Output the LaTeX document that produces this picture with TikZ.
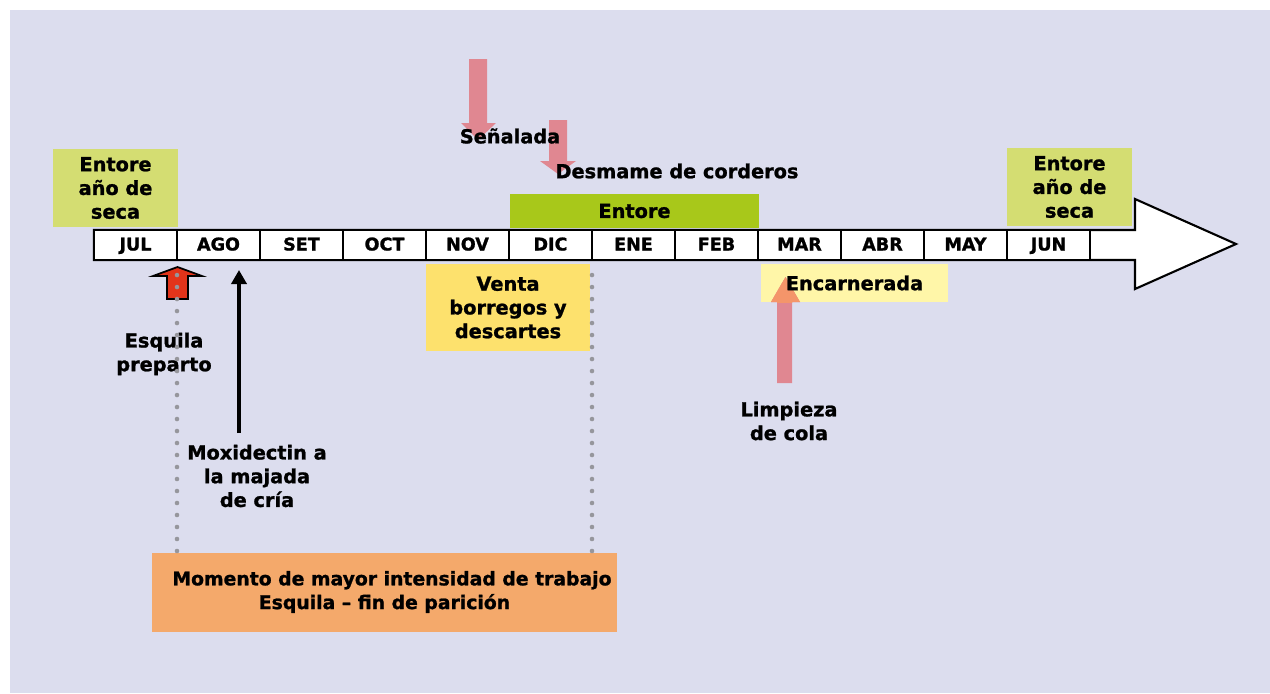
\documentclass[tikz,border=0pt]{standalone}
\usepackage{fontspec}
\setmainfont{DejaVu Sans}[BoldFeatures={FakeBold=1.2}]
\usetikzlibrary{arrows.meta,positioning}

\definecolor{fondo}{RGB}{220,221,238}
\definecolor{seca}{RGB}{212,221,114}
\definecolor{entore}{RGB}{168,200,26}
\definecolor{venta}{RGB}{253,225,109}
\definecolor{encar}{RGB}{255,246,168}
\definecolor{trabajo}{RGB}{244,169,107}
\definecolor{rosa}{RGB}{224,135,145}
\definecolor{naranja}{RGB}{244,149,106}
\definecolor{rojo}{RGB}{227,52,26}
\definecolor{gris}{RGB}{150,150,156}

\tikzset{
  txt/.style={font=\bfseries\fontsize{11}{13.5}\selectfont, align=center, inner sep=0pt},
  caja/.style={txt, rectangle},
  mes/.style={draw, line width=1pt, fill=white, minimum width=1.66cm, minimum height=0.6cm,
    inner sep=0pt, text height=2.6mm, text depth=0.4mm, font=\bfseries\fontsize{10}{12}\selectfont},
  punteada/.style={gris, line width=2.6pt, line cap=round, dash pattern=on 0pt off 0.24cm}
}

\begin{document}
\begin{tikzpicture}[x=0.02cm,y=-0.02cm]
        \useasboundingbox (0,0) rectangle (1270,693);
        \fill[fondo] (10,10) rectangle (1270,693);

        % linea de tiempo
        \draw[line width=1.2pt, fill=white] (94,230) -- (1135,230) -- (1135,199) -- (1236,244)
            -- (1135,289) -- (1135,260) -- (94,260) -- cycle;
        \foreach \m [count=\i from 0] in {JUL,AGO,SET,OCT,NOV,DIC,ENE,FEB,MAR,ABR,MAY,JUN}
            \node[mes] (\m) at (135.5+83*\i,245) {\m};

        % cajas de arriba
        \node[caja, fill=seca, minimum width=2.5cm, minimum height=1.56cm] (secaA) at (115.5,188) {Entore\\año de\\seca};
        \node[caja, fill=seca, minimum width=2.5cm, minimum height=1.56cm] (secaB) at (1069.5,187) {Entore\\año de\\seca};
        \node[caja, fill=entore, minimum width=4.98cm, minimum height=0.68cm] (entore) at (634.5,211) {Entore};

        % flechas rosas de arriba
        \fill[rosa] (469,59) -- (487,59) -- (487,123) -- (496,123) -- (478,140) -- (461,123) -- (469,123) -- cycle;
        \fill[rosa] (549,120) -- (567,120) -- (567,161) -- (576,161) -- (558,174) -- (540,161) -- (549,161) -- cycle;
        \node[txt] (senal) at (510,136) {Señalada};
        \node[txt] (desmame) at (677,171) {Desmame de corderos};

        % cajas de abajo
        \node[caja, fill=venta, minimum width=3.28cm, minimum height=1.74cm] (venta) at (508,307.5) {Venta\\borregos y\\descartes};
        \node[rectangle, fill=encar, minimum width=3.74cm, minimum height=0.76cm, inner sep=0pt] (encar) at (854.5,283) {};

        % limpieza de cola
        \fill[rosa] (777,383) -- (792,383) -- (792,302) -- (800,302) -- (785.5,277) -- (771,302) -- (777,302) -- cycle;
        \begin{scope}
            \clip (encar.north west) rectangle (encar.south east);
            \fill[naranja] (777,383) -- (792,383) -- (792,302) -- (800,302) -- (785.5,277) -- (771,302) -- (777,302) -- cycle;
        \end{scope}
        \node[txt] at (encar) {Encarnerada};
        \node[txt] (limpieza) at (789,421) {Limpieza\\de cola};

        % esquila y moxidectin
        \filldraw[fill=rojo, line width=1pt] (167,299) -- (188,299) -- (188,276) -- (202,276) -- (177.5,267)
            -- (153,276) -- (167,276) -- cycle;
        \node[txt] (esquila) at (164,354) {Esquila\\preparto};
        \coordinate (moxbase) at (239,433);
        \coordinate (moxtip) at (239,270);
        \draw[line width=2.8pt, -{Triangle[length=0.28cm,width=0.3cm]}] (moxbase) -- (moxtip);
        \node[txt] (moxi) at (257,476) {Moxidectin a\\la majada\\de cría};

        % periodo de trabajo
        \node[caja, fill=trabajo, minimum width=9.3cm, minimum height=1.58cm, font=\bfseries\fontsize{10.7}{13.5}\selectfont]
            (trabajo) at (384.5,592)
            {\hspace*{0.3cm}Momento de mayor intensidad de trabajo\\Esquila -- fin de parición};
        \draw[punteada] (177,551) -- (177,267);
        \draw[punteada] (592,551) -- (592,264);

    \end{tikzpicture}
\end{document}
